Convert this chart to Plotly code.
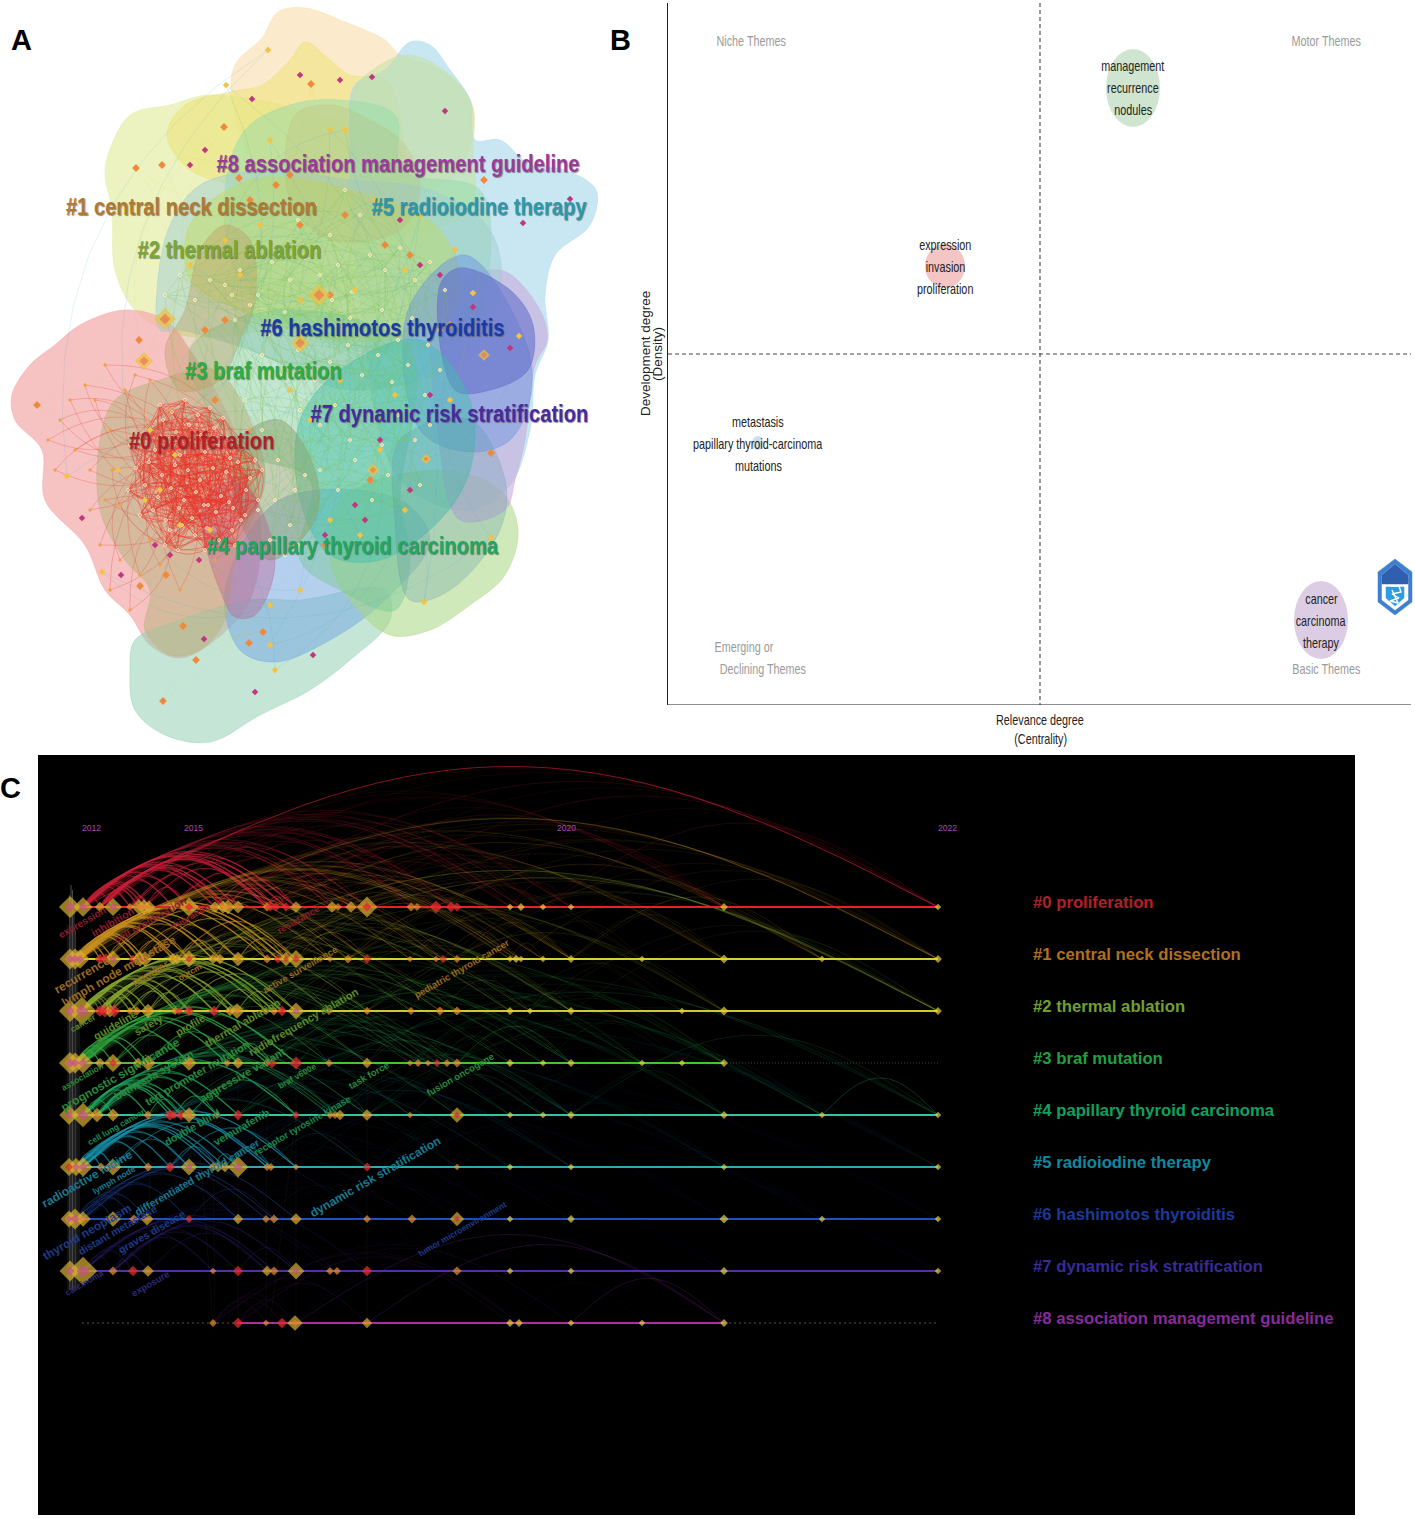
import numpy as np
import plotly.graph_objects as go

W, H = 1415, 1519
NARROW = "Arial Narrow, Liberation Sans"
SANS = "Liberation Sans"

# ---------- Panel A data ----------
A_BLOB_COLORS = ["rgba(250,220,170,.6)", "rgba(225,235,150,.6)", "rgba(235,225,110,.5)", "rgba(165,215,235,.6)",
                 "rgba(195,225,160,.55)", "rgba(244,170,170,.72)", "rgba(150,210,180,.55)", "rgba(120,170,225,.55)",
                 "rgba(170,215,130,.55)", "rgba(200,170,220,.6)", "rgba(150,220,170,.5)", "rgba(160,205,210,.5)",
                 "rgba(190,220,80,.42)", "rgba(190,160,90,.16)", "rgba(110,150,225,.5)", "rgba(100,110,200,.6)",
                 "rgba(120,200,150,.45)", "rgba(60,190,170,.45)", "rgba(90,150,170,.28)", "rgba(185,180,130,.55)",
                 "rgba(190,150,90,.36)", "rgba(140,160,110,.5)", "rgba(190,90,140,.38)"]
A_BLOB_X = [
    [232,235,262,278,305,345,385,400,440,470,473,450,350,260],
    [108,130,170,210,300,400,400,300,180,135,115,112,105],
    [167,185,230,262,290,305,330,350,385,402,400,330,260,190],
    [355,385,410,430,450,470,475,500,530,565,596,590,555,545,548,535,530,510,470,400,360,350],
    [355,380,410,450,472,473,470,400,360],
    [125,165,190,230,260,250,215,180,150,130,105,85,45,42,15,12,30,55,80],
    [130,135,180,250,300,385,390,350,310,260,210,165,135],
    [225,280,400,430,385,330,275,240],
    [340,440,500,518,505,470,430,390,350,330],
    [440,500,540,547,535,525,515,505,460,440],
    [245,290,340,395,402,480,490,470,350,240,225],
    [157,170,200,270,350,430,490,500,460,350,250,180,160],
    [190,250,350,440,460,430,330,240,190],
    [295,330,370,405,420,400,330,290],
    [408,465,525,531,510,470,420],
    [440,459,510,533,528,490,455],
    [190,280,410,400,410,395,340,300,310,240],
    [300,340,420,470,470,440,380,330,300],
    [400,470,505,500,450,410,395],
    [100,115,160,215,250,265,235,225,200,170,145,150,125,100],
    [200,225,250,255,240,220,180,165,185],
    [240,280,315,315,270,240],
    [205,240,275,255,235,220,205],
]
A_BLOB_Y = [
    [100,65,38,12,8,22,40,55,70,100,130,180,200,170],
    [155,115,105,95,110,150,250,320,335,310,270,210,175],
    [135,105,92,85,60,42,60,75,80,130,180,210,190,170],
    [85,70,42,45,70,100,140,140,165,170,190,225,255,295,340,375,430,485,510,480,300,150],
    [90,65,55,75,105,150,210,230,170],
    [310,320,350,420,520,600,640,658,645,615,590,545,500,450,420,395,365,345,325],
    [670,640,620,600,600,590,620,660,690,715,742,735,710],
    [590,500,500,540,600,640,662,650],
    [500,470,490,530,575,605,630,635,600,560],
    [300,270,310,340,365,440,480,510,520,450],
    [130,105,100,115,170,190,260,330,350,280,190],
    [290,225,185,170,180,190,230,290,360,390,350,330,330],
    [225,180,190,230,300,330,340,310,280],
    [115,105,120,145,190,230,240,200],
    [310,255,340,395,440,452,430],
    [285,268,290,325,370,390,390],
    [350,310,350,500,560,610,590,560,480,450],
    [420,370,340,400,470,520,560,555,500],
    [440,420,480,530,590,600,520],
    [440,400,380,370,420,480,560,620,650,655,630,590,560,510],
    [250,225,240,300,340,380,390,350,310],
    [440,420,470,520,560,520],
    [500,480,560,615,617,590,540],
]

A_CORE_X = [130,142,155,168,180,192,205,218,230,242,255,136,149,162,175,188,200,213,226,238,250,262,128,145,158,171,184,196,208,221,233,246,140,153,166,179,192,204,216,229,241,150,163,176,189,201,214,227,160,172,185,198,210,223,170,182,195,207,219,232,245,258,165,178,205,235]
A_CORE_Y = [445,438,450,442,455,440,452,445,458,448,460,468,462,475,465,470,480,468,472,462,478,470,490,485,497,488,500,492,505,496,508,490,515,510,520,508,518,505,512,502,520,430,420,432,425,435,428,438,405,412,400,415,408,418,530,525,535,528,540,530,515,500,545,550,550,545]
A_OUTER_X = [110,95,85,70,60,48,55,75,90,105,100,120,140,160,180,90,110,130,150,170,215,235,250,125,135,112,150,120,105]
A_OUTER_Y = [430,400,385,400,420,440,470,450,470,365,545,560,575,565,590,510,590,610,540,410,560,535,430,390,375,470,380,505,500]

A_WHITE_X = [225,240,258,272,290,305,320,338,352,370,385,400,415,430,445,235,250,268,285,300,318,332,350,365,382,398,412,428,262,280,298,315,330,348,362,378,392,408,425,440,300,320,335,350,365,382,398,415,430,320,338,355,372,388,405,420,245,262,278,295,258,275,290,305,270,285,298,232,210,195,180,165,298,315,330,345,360]
A_WHITE_Y = [285,270,295,262,280,258,275,265,292,255,270,248,280,262,290,320,305,335,312,345,325,300,318,335,310,340,318,345,355,375,350,380,362,345,375,355,382,365,395,370,410,425,405,440,420,445,415,440,425,470,490,460,500,475,510,485,400,430,460,490,510,500,525,475,540,555,545,295,280,300,275,295,220,205,235,190,215]
A_YELLOW_X = [268,226,102,67,424,491,426,373,473,519,240,300,345,260,190,225,355,405,440,455,310,340,395,380,290,330,275,210,150,160,450,405,330,300,270,360,180,270,375,420,118,145,175,270]
A_YELLOW_Y = [50,85,572,476,602,538,459,470,293,336,275,300,130,225,265,240,290,270,330,250,420,380,395,450,390,130,670,530,430,490,400,510,520,590,645,535,525,140,200,215,470,500,455,605]
A_ORANGE_X = [136,162,224,311,276,239,139,37,140,166,196,183,263,249,484,491,163,385,345,410,330,250,290,225,300,370,325,450,165,205,215]
A_ORANGE_Y = [168,165,127,84,185,178,340,405,586,575,660,626,632,643,180,453,701,245,215,255,295,200,175,320,225,480,545,325,320,330,400]
A_MAGENTA_X = [252,372,445,570,473,510,82,121,199,204,255,313,190,205,523,400,420,440,355,410,380,325,365,340,300,430,170,155]
A_MAGENTA_Y = [99,77,111,199,307,348,518,575,560,639,692,655,165,150,223,220,265,275,505,490,440,535,520,80,75,395,555,545]
A_BIG_X = [165,144,319,300,373,484,426]
A_BIG_Y = [319,361,295,343,470,355,459]
A_BIG_SIZE = [17,14,17,15,10,9,8]

A_LABELS = ["#8 association management guideline", "#1 central neck dissection", "#5 radioiodine therapy",
            "#2 thermal ablation", "#6 hashimotos thyroiditis", "#3 braf mutation",
            "#7 dynamic risk stratification", "#0 proliferation", "#4 papillary thyroid carcinoma"]
A_LABEL_X = [398,191,479,229,382,263,449,201,352]
A_LABEL_Y = [163,206,206,249,327,370,413,440,545]
A_LABEL_COLORS = ["#9a3a9e", "#b07a30", "#2a9ab0", "#7aa830", "#1a3aa8", "#2ab040", "#4a2aa0", "#b02028", "#20a860"]

# ---------- Panel B data ----------
B_BUBBLE_X = [1133, 945, 758, 1321]
B_BUBBLE_Y = [88, 266, 443, 620]
B_BUBBLE_RX = [27, 20, 6, 27]
B_BUBBLE_RY = [39, 22, 7, 39]
B_BUBBLE_COLORS = ["#cfe5cf", "#f3c5c5", "#cfdff0", "#dccde4"]
B_WORDS = [["management", "recurrence", "nodules"], ["expression", "invasion", "proliferation"],
           ["metastasis", "papillary thyroid-carcinoma", "mutations"], ["cancer", "carcinoma", "therapy"]]
B_CENTER_X = 1040
B_CENTER_Y = 354
LOGO_OUT_X = [1395,1412,1412,1395,1378,1378]
LOGO_OUT_Y = [559,572,602,615,602,572]
LOGO_IN_X = [1395,1408,1408,1395,1382,1382]
LOGO_IN_Y = [564,575,600,610,600,575]
LOGO_TOP_X = [1395,1408,1408,1382,1382]
LOGO_TOP_Y = [564,575,582,582,575]
LOGO_BAR_X = [1382,1408,1408,1382]
LOGO_BAR_Y = [579,579,584,584]
LOGO_LOW_X = [1386,1404,1404,1395,1386]
LOGO_LOW_Y = [587,587,598,606,598]
LOGO_MARK_X = [1391,1399,1401,1392,1399,1390,1398,1392]
LOGO_MARK_Y = [586,586,592,594,598,601,603,590]

# ---------- Panel C data ----------
C_YEARS = ["2012", "2015", "2020", "2022"]
C_YEAR_X = [91, 193, 566, 947]
C_ROW_Y = [907, 959, 1011, 1063, 1115, 1167, 1219, 1271, 1323]
C_LINE_COLORS = ["#e0242a", "#d8d030", "#cfc832", "#48c038", "#38c0a0", "#30a8b8", "#2050b8", "#5430a8", "#a8309a"]
C_ARC_COLORS = ["#c82038", "#c89020", "#88a830", "#30a840", "#20a860", "#1a98b0", "#2048a0", "#352888", "#6a2080"]
C_NODE_X = [
    [70,83,100,113,130,139,144,149,173,189,215,223,228,238,267,270,276,286,296,332,338,351,367,411,417,436,451,457,510,521,543,571,724,938],
    [70,75,80,100,106,113,133,140,145,173,177,189,213,220,238,267,278,286,296,330,348,367,410,436,443,457,510,516,521,543,571,642,724,822,938],
    [70,82,100,105,110,114,130,137,148,175,179,189,214,230,237,266,274,282,296,329,367,411,440,457,510,530,571,682,724,938],
    [70,75,83,100,113,138,148,189,227,238,267,272,296,329,367,410,418,428,437,447,457,510,543,571,642,682,724],
    [69,83,97,113,148,170,174,181,189,217,238,296,330,335,340,367,410,457,510,543,571,724,822,938],
    [69,76,83,101,113,148,170,189,213,218,225,238,267,271,296,367,457,510,571,724,938],
    [69,75,83,113,134,147,189,238,266,274,296,367,412,457,510,571,724,822,938],
    [70,83,113,133,148,213,238,267,274,296,330,337,367,457,510,571,724,938],
    [213,238,266,282,295,367,510,519,571,642,724],
]
C_NODE_SIZE = [
    [15,13,6,12,4,10,10,8,6,13,7,8,9,8,5,5,5,5,7,7,4,7,14,5,4,8,6,5,3,4,3,3,4,3],
    [14,14,13,6,7,11,5,10,10,7,6,11,6,6,9,5,5,9,12,3,5,5,3,3,4,4,3,4,3,3,4,3,5,3,4],
    [15,20,7,8,8,8,4,5,9,4,4,6,6,6,10,4,5,6,11,4,4,4,5,5,4,3,4,3,5,4],
    [15,14,14,6,12,6,10,10,4,7,4,6,8,4,6,3,4,3,4,4,5,4,3,4,3,3,4],
    [13,17,9,8,5,7,4,6,10,4,6,4,4,4,6,7,3,10,3,3,4,4,3,3],
    [12,12,13,5,11,5,6,11,5,6,6,14,4,4,3,5,3,3,3,3,3],
    [11,14,10,10,5,8,4,6,4,5,7,4,5,9,3,4,5,3,3],
    [14,20,5,6,7,3,6,6,5,11,4,4,6,5,3,3,4,3],
    [4,6,3,6,10,6,4,4,3,3,4],
]
C_NODE_RED = [
    [189,367,436,451,457,286,270,276],
    [100,106,133,189,278,286,296,367,443],
    [100,105,114,179,189,214,282,330],
    [113,272,296,437],
    [170,174,181,238,296,457],
    [69,170,296,367,457],
    [189,457],
    [133,238,367],
    [238,282,571],
]
C_FAR_ENDS = [[724,938],[571,724,822,938],[571,724,938],[571,642,724],[571,724,822,938],[571,724,938],[724,822,938],[724,938],[]]
C_EXTRA_ARC_START = [83, 83, 83, 148, 822, 296, 367, 571]
C_EXTRA_ARC_END = [938, 938, 938, 938, 938, 724, 724, 724]
C_EXTRA_ARC_ROW = [0, 1, 2, 2, 4, 8, 8, 8]

C_LABELS = [
    ["expression","inhibition","cell proliferation","migration","resistance"],
    ["recurrence","lymph node metastase","number","outcm","active surveillance","pediatric thyroid cancer"],
    ["cancer","guideline","safety","profile","thermal ablation","radiofrequency ablation"],
    ["association","prognostic significance","bethesda system","tert promoter mutation","aggressive variant","braf v600e","task force","fusion oncogene"],
    ["cell lung cancer","double blind","vemurafenib","receptor tyrosine kinase"],
    ["radioactive iodine","lymph node","differentiated thyroid cancer","dynamic risk stratification"],
    ["thyroid neoplasm","distant metastase","graves disease","tumor microenvironment"],
    ["carcinoma","exposure"],
]
C_LABEL_X = [[82,112,150,190,298],[82,119,150,190,300,462],[83,115,148,190,242,303],[82,120,153,197,242,297,368,460],[116,192,241,302],[87,114,197,375],[87,117,151,462],[84,150]]
C_LABEL_Y = [[923,922,920,917,920],[975,971,973,972,970,969],[1023,1025,1025,1025,1023,1022],[1077,1075,1075,1073,1075,1076,1075,1074],[1127,1127,1127,1125],[1179,1180,1177,1177],[1232,1230,1232,1229],[1283,1283]]
C_LABEL_SIZE = [[10,10.5,10.5,9.5,9.5],[12,12,11,8.5,9.5,9.5],[8.5,11,10.5,10.5,11,11],[8.5,12,11,11,11,8.5,9.5,9.5],[8.5,10.5,10.5,9.5],[12,8.5,10.5,12],[12,10.5,10.5,8.5],[8.5,9.5]]
C_LABEL_COLORS = ["#8a1c2c", "#9a6a20", "#5a8a28", "#2a8a3a", "#1a8a50", "#1a7a90", "#1e3a8a", "#2a2a78"]

C_LEGEND = ["#0 proliferation", "#1 central neck dissection", "#2 thermal ablation", "#3 braf mutation",
            "#4 papillary thyroid carcinoma", "#5 radioiodine therapy", "#6 hashimotos thyroiditis",
            "#7 dynamic risk stratification", "#8 association management guideline"]
C_LEGEND_Y = [902.5, 954.5, 1006.5, 1058, 1110, 1162, 1214, 1266, 1318]
C_LEGEND_COLORS = ["#b02028", "#b07020", "#70a030", "#20a040", "#10a060", "#108aa0", "#1a3a9a", "#3a2a9a", "#8a2a9a"]


fig = go.Figure()
annos = []


def text(s, x, y, size, color, ax="x", ay="y", family=SANS, angle=0, anchor="center", shadow=None, bold=False):
    f = dict(size=size, color=color, family=family)
    if shadow:
        f["shadow"] = shadow
    if bold:
        f["weight"] = "bold"
    if ax == "paper":
        x, y = x / W, 1 - y / H
    annos.append(dict(text=s, x=x, y=y, xref=ax, yref=ay, showarrow=False, font=f, textangle=angle,
                      xanchor=anchor, yanchor="middle", borderpad=0))


def bezier_edges(x0s, y0s, x1s, y1s, bend=0.32):
    xs, ys = [], []
    t = np.linspace(0, 1, 10)
    for k, (a, b, c, d) in enumerate(zip(x0s, y0s, x1s, y1s)):
        mx, my = (a + c) / 2, (b + d) / 2
        sign = 1 if k % 2 else -1
        cx, cy = mx + sign * bend * (d - b), my - sign * bend * (c - a)
        xs += list((1 - t) ** 2 * a + 2 * t * (1 - t) * cx + t ** 2 * c) + [None]
        ys += list((1 - t) ** 2 * b + 2 * t * (1 - t) * cy + t ** 2 * d) + [None]
    return xs, ys


def ring_edges(X, Y, steps):
    n = len(X)
    a, b, c, d = [], [], [], []
    for s in steps:
        for i in range(n):
            j = (i + s) % n
            a.append(X[i]); b.append(Y[i]); c.append(X[j]); d.append(Y[j])
    return bezier_edges(a, b, c, d)


def add_line(xs, ys, color, width, ax="x", ay="y", dash=None):
    fig.add_trace(go.Scatter(x=xs, y=ys, mode="lines", xaxis=ax, yaxis=ay, hoverinfo="skip", showlegend=False,
                             line=dict(color=color, width=width, dash=dash)))


# ---------- Panel A ----------
for bx, by, col in zip(A_BLOB_X, A_BLOB_Y, A_BLOB_COLORS):
    fig.add_trace(go.Scatter(x=bx + bx[:1], y=by + by[:1], mode="lines", fill="toself", fillcolor=col, hoverinfo="skip",
                             showlegend=False, line=dict(color=col, width=0.8, shape="spline", smoothing=1.0)))

ex, ey = ring_edges(A_WHITE_X, A_WHITE_Y, [5, 13, 29])
add_line(ex, ey, "rgba(120,190,90,.34)", 0.7)
ex, ey = ring_edges(A_YELLOW_X, A_YELLOW_Y, [3])
add_line(ex, ey, "rgba(70,170,190,.22)", 0.7)
ex, ey = ring_edges(A_ORANGE_X, A_ORANGE_Y, [4])
add_line(ex, ey, "rgba(220,190,80,.18)", 0.6)
ex, ey = ring_edges(A_CORE_X, A_CORE_Y, [2, 5, 9, 14, 21, 27])
add_line(ex, ey, "rgba(232,50,40,.55)", 0.8)
n_out = len(A_OUTER_X)
ex, ey = bezier_edges(A_OUTER_X + A_OUTER_X, A_OUTER_Y + A_OUTER_Y,
                      A_CORE_X[:n_out] + A_CORE_X[-n_out:], A_CORE_Y[:n_out] + A_CORE_Y[-n_out:])
add_line(ex, ey, "rgba(230,70,60,.42)", 0.7)


def a_nodes(X, Y, color, size, symbol="diamond", lc=None):
    fig.add_trace(go.Scatter(x=X, y=Y, mode="markers", hoverinfo="skip", showlegend=False,
                             marker=dict(color=color, size=size, symbol=symbol,
                                         line=dict(width=0.8 if lc else 0, color=lc or color))))


a_nodes(A_CORE_X, A_CORE_Y, "#f08a4a", 3, "circle", "rgba(255,255,255,.85)")
a_nodes(A_OUTER_X, A_OUTER_Y, "#f0a040", 3, "diamond")
a_nodes(A_WHITE_X, A_WHITE_Y, "#e8c060", 3, "circle", "rgba(255,255,255,.9)")
a_nodes(A_YELLOW_X, A_YELLOW_Y, "#f5c242", 5)
a_nodes(A_ORANGE_X, A_ORANGE_Y, "#ef8a3c", 6)
a_nodes(A_MAGENTA_X, A_MAGENTA_Y, "#c2357f", 5)
a_nodes(A_BIG_X, A_BIG_Y, "#f0c040", A_BIG_SIZE)
a_nodes(A_BIG_X, A_BIG_Y, "#e87a50", [s * 0.5 for s in A_BIG_SIZE])

for s, x, y, c in zip(A_LABELS, A_LABEL_X, A_LABEL_Y, A_LABEL_COLORS):
    text(s, x, y, 24, c, family=NARROW, shadow="1px 1px 1px rgba(70,70,70,.6)", bold=True)

# ---------- Panel B ----------
shapes = []
for cx, cy, rx, ry, c in zip(B_BUBBLE_X, B_BUBBLE_Y, B_BUBBLE_RX, B_BUBBLE_RY, B_BUBBLE_COLORS):
    shapes.append(dict(type="circle", xref="x2", yref="y2", x0=cx - rx, x1=cx + rx, y0=cy - ry, y1=cy + ry,
                       fillcolor=c, line=dict(width=0), layer="below"))
add_line([B_CENTER_X, B_CENTER_X], [3, 705], "#444", 1.1, "x2", "y2", "4px,3px")
add_line([668, 1411], [B_CENTER_Y, B_CENTER_Y], "#444", 1.1, "x2", "y2", "4px,3px")
for words, cx, cy in zip(B_WORDS, B_BUBBLE_X, B_BUBBLE_Y):
    for i, w in enumerate(words):
        text(w, cx, cy + (i - 1) * 22, 15, "#222", "x2", "y2", NARROW)
GREY = "#9a9a9a"
text("Niche Themes", 702, 41, 15, GREY, "x2", "y2", NARROW, anchor="left")
text("Motor Themes", 1375, 41, 15, GREY, "x2", "y2", NARROW, anchor="right")
text("Emerging or", 702, 646, 15, GREY, "x2", "y2", NARROW, anchor="left")
text("Declining Themes", 702, 668, 15, GREY, "x2", "y2", NARROW, anchor="left")
text("Basic Themes", 1375, 668, 15, GREY, "x2", "y2", NARROW, anchor="right")
text("Relevance degree", 1040, 720, 15, "#222", "paper", "paper", NARROW)
text("(Centrality)", 1040, 738, 15, "#222", "paper", "paper", NARROW)
text("Development degree", 645, 354, 13.5, "#222", "paper", "paper", SANS, angle=-90)
text("(Density)", 657, 354, 13.5, "#222", "paper", "paper", SANS, angle=-90)


def logo(X, Y, c):
    fig.add_trace(go.Scatter(x=X + X[:1], y=Y + Y[:1], xaxis="x2", yaxis="y2", mode="lines", fill="toself", fillcolor=c,
                             hoverinfo="skip", showlegend=False, line=dict(color=c, width=0.5)))


logo(LOGO_OUT_X, LOGO_OUT_Y, "#3f7fd0")
logo(LOGO_IN_X, LOGO_IN_Y, "#ffffff")
logo(LOGO_TOP_X, LOGO_TOP_Y, "#2f5fae")
logo(LOGO_BAR_X, LOGO_BAR_Y, "#2f5fae")
logo(LOGO_LOW_X, LOGO_LOW_Y, "#2f9be0")
add_line(LOGO_MARK_X, LOGO_MARK_Y, "#ffffff", 1.4, "x2", "y2")

# ---------- Panel C ----------
shapes.append(dict(type="rect", xref="x3 domain", yref="y3 domain", x0=0, x1=1, y0=0, y1=1, fillcolor="#000000",
                   line=dict(width=0), layer="below"))

# grey bundles of links between the rows
for x0, top, a in [(68, 925, .3), (69.5, 895, .5), (71, 885, .65), (72.5, 890, .6), (74, 905, .55), (75.5, 930, .45), (77, 950, .4), (79, 1000, .3)]:
    add_line([x0, x0], [top, 1290], f"rgba(210,210,210,{a * .7})", 0.8, "x3", "y3")
for x0, x1, r0, r1 in [(113, 120, 0, 7), (148, 150, 1, 7), (189, 213, 2, 8), (238, 238, 3, 8), (296, 296, 1, 8),
                       (296, 270, 4, 8), (367, 367, 2, 8), (212, 215, 3, 8), (267, 266, 4, 8)]:
    add_line([x0, x1], [C_ROW_Y[r0], C_ROW_Y[r1]], "rgba(200,200,200,.08)", 0.6, "x3", "y3")


def arc(x0, x1, y0):
    t = np.linspace(0, 1, 36)
    span = x1 - x0
    return list(x0 + span * t) + [None], list(y0 - 1.56 * span ** (2 / 3) * np.sin(np.pi * t)) + [None]


def hex_rgba(h, a):
    return f"rgba({int(h[1:3], 16)},{int(h[3:5], 16)},{int(h[5:7], 16)},{a})"


for r, (nx, far, col, y0) in enumerate(zip(C_NODE_X, C_FAR_ENDS, C_ARC_COLORS, C_ROW_Y)):
    groups = {0: ([], []), 1: ([], []), 2: ([], []), 3: ([], [])}

    def put(a, b):
        g = 0 if b < 300 else 1 if b < 400 else 2 if b < 600 else 3
        ax_, ay_ = arc(a, b, y0)
        groups[g][0].extend(ax_)
        groups[g][1].extend(ay_)

    ends = [e for e in nx if e > 90]
    starts = nx[1:3] if r < 8 else nx[:2]
    for s in starts:
        for e in ends:
            if e > s and (e < 620 or e in far):
                put(s, e)
    for i, s in enumerate(nx[3:], 3):
        if i % 2 == 0:
            for e in nx[i + 3::5]:
                put(s, e)
        if i % 5 == 0:
            for e in far:
                if e > s:
                    put(s, e)
    styles = [(.62, 1.1), (.32, .9), (.2, .8), (.13, .7)] if r < 5 else [(.5, 1.1), (.2, .8), (.11, .7), (.08, .6)]
    if r in (6, 7):
        styles = [(.3, 1.0), (.14, .8), (.08, .7), (.07, .6)]
    if r == 8:
        styles = [(.14, .8), (.14, .8), (.14, .7), (.14, .7)]
    for g, (a, w) in enumerate(styles):
        if groups[g][0]:
            add_line(groups[g][0], groups[g][1], hex_rgba(col, a), w, "x3", "y3")

for s, e, r in zip(C_EXTRA_ARC_START, C_EXTRA_ARC_END, C_EXTRA_ARC_ROW):
    ax_, ay_ = arc(s, e, C_ROW_Y[r])
    add_line(ax_, ay_, hex_rgba(C_ARC_COLORS[r], .6 if s == 83 and r == 0 else .3), 1.0, "x3", "y3")

# row baselines
for r, (y0, c) in enumerate(zip(C_ROW_Y, C_LINE_COLORS)):
    if r == 3:
        add_line([724, 938], [y0, y0], "#555", 0.8, "x3", "y3", "1px,2px")
        add_line([70, 724], [y0, y0], c, 2, "x3", "y3")
    elif r == 8:
        add_line([82, 238], [y0, y0], "#666", 0.8, "x3", "y3", "2px,3px")
        add_line([724, 938], [y0, y0], "#666", 0.8, "x3", "y3", "2px,3px")
        add_line([238, 724], [y0, y0], c, 2, "x3", "y3")
    else:
        add_line([70, 938], [y0, y0], c, 2, "x3", "y3")

# row nodes
for nx, ns, nr, y0 in zip(C_NODE_X, C_NODE_SIZE, C_NODE_RED, C_ROW_Y):
    ny = [y0] * len(nx)
    outer = ["#e83030" if (x in nr and 4 <= s < 9) else "#e8d040" if x >= 500 else "#d8b030" if s >= 6 else "#e89030"
             for x, s in zip(nx, ns)]
    sizes = [s + 2 for s in ns]
    fig.add_trace(go.Scatter(x=nx, y=ny, mode="markers", xaxis="x3", yaxis="y3", hoverinfo="skip", showlegend=False,
                             marker=dict(symbol="diamond", size=sizes, color=outer, line=dict(width=0))))
    ix = [x for x, s in zip(nx, ns) if s >= 6]
    isz = [s * 0.5 for s in ns if s >= 6]
    ic = ["#e02030" if x in nr else "#c8508a" if s >= 11 else "#e87a30" for x, s in zip(nx, ns) if s >= 6]
    fig.add_trace(go.Scatter(x=ix, y=[y0] * len(ix), mode="markers", xaxis="x3", yaxis="y3", hoverinfo="skip",
                             showlegend=False, marker=dict(symbol="diamond", size=isz, color=ic, line=dict(width=0))))

for yr, x in zip(C_YEARS, C_YEAR_X):
    text(yr, x, 828, 8.5, "#a848b8", "x3", "y3")
for words, xs, ys, szs, c in zip(C_LABELS, C_LABEL_X, C_LABEL_Y, C_LABEL_SIZE, C_LABEL_COLORS):
    for w, x, y, sz in zip(words, xs, ys, szs):
        text(w, x, y, sz, c, "x3", "y3", angle=-30, bold=True)
for s, y, c in zip(C_LEGEND, C_LEGEND_Y, C_LEGEND_COLORS):
    text(s, 1032, y, 16.7, c, "x3", "y3", anchor="left", bold=True)

# panel letters
text("A", 21, 40, 29, "#000", "paper", "paper", bold=True)
text("B", 620, 40, 29, "#000", "paper", "paper", bold=True)
text("C", 10, 788, 29, "#000", "paper", "paper", bold=True)

no_ax = dict(showgrid=False, zeroline=False, showticklabels=False, ticks="", visible=True, showline=False)


def dom_x(a, b):
    return [a / W, b / W]


def dom_y(a, b):
    return [1 - b / H, 1 - a / H]


fig.update_layout(
    width=W, height=H, margin=dict(l=0, r=0, t=0, b=0), autosize=False, paper_bgcolor="white", plot_bgcolor="rgba(0,0,0,0)",
    showlegend=False, hovermode=False, shapes=shapes, annotations=annos,
    xaxis=dict(no_ax, domain=dom_x(0, 610), range=[0, 610]),
    yaxis=dict(no_ax, domain=dom_y(0, 750), range=[750, 0]),
    xaxis2=dict(no_ax, domain=dom_x(668, 1415), range=[668, 1415], anchor="y2", showline=False),
    yaxis2=dict(no_ax, domain=dom_y(3, 705), range=[705, 3], anchor="x2", showline=True, linecolor="#222", linewidth=1.2),
    xaxis3=dict(no_ax, domain=dom_x(38, 1355), range=[38, 1355], anchor="y3"),
    yaxis3=dict(no_ax, domain=dom_y(755, 1515), range=[1515, 755], anchor="x3"),
)
add_line([668, 1411], [705, 705], "#222", 1.2, "x2", "y2")

# The reference sets these words in a condensed face that is not installed: squeeze the glyphs horizontally.
POST = """
document.body.style.margin='0';
document.querySelectorAll('text.annotation-text').forEach(function(t){
  var fam = t.style.fontFamily || '';
  if (fam.indexOf('Narrow') < 0) return;
  var size = parseFloat(t.style.fontSize);
  var k = size > 20 ? 0.84 : 0.72;
  t.setAttribute('lengthAdjust', 'spacingAndGlyphs');
  t.setAttribute('textLength', (t.getComputedTextLength() * k).toFixed(1));
});
"""
fig.write_html("out.html", config=dict(displayModeBar=False), post_script=POST)
